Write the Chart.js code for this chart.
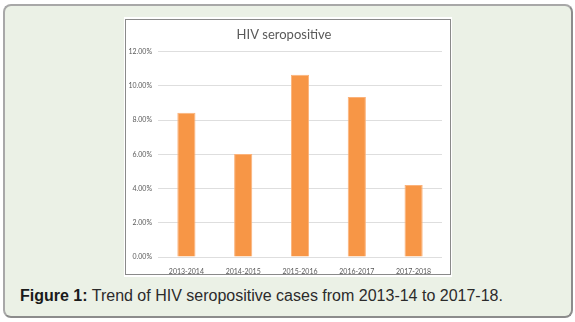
<!DOCTYPE html>
<html>
<head>
<meta charset="utf-8">
<script src="https://cdn.jsdelivr.net/npm/chart.js@4/dist/chart.umd.min.js"></script>
<style>
  html, body { margin: 0; padding: 0; background: #fff; }
  body { width: 575px; height: 322px; position: relative; overflow: hidden; }
  .panel {
    position: absolute; left: 3px; top: 4px; width: 566px; height: 310px;
    background: #ebf1e6; border: 2px solid #a8a8a8; border-radius: 8px;
    border-right-color: #8c8c8c; border-bottom-color: #8c8c8c;
  }
  .frame {
    position: absolute; left: 124px; top: 17px; width: 328px; height: 260px;
    background: #fff;
  }
  .box {
    position: absolute; left: 1px; top: 2px; width: 324px; height: 254px;
    border: 1px solid #8a8a8a;
  }
  .caption {
    position: absolute; left: 20px; top: 287px;
    font-family: "Liberation Sans", Arial, sans-serif; font-size: 16px; color: #2b2b2b;
  }
  .caption b { color: #1a1a1a; }
</style>
</head>
<body>
<div class="panel"></div>
<div class="frame">
  <div class="box"><canvas id="hivChart" width="324" height="254"></canvas></div>
</div>
<div class="caption"><b>Figure 1:</b> Trend of HIV seropositive cases from 2013-14 to 2017-18.</div>

<script>
// data
const years = ["2013-2014", "2014-2015", "2015-2016", "2016-2017", "2017-2018"];
const seropositive = [8.43, 6.02, 10.65, 9.35, 4.21];   // percent
const yTicks = [0, 2, 4, 6, 8, 10, 12];

const textGrey = "#595959";

const ctx = document.getElementById("hivChart").getContext("2d");
new Chart(ctx, {
  type: "bar",
  data: {
    labels: years,
    datasets: [{
      label: "HIV seropositive",
      data: seropositive,
      backgroundColor: "#f79646",
      borderColor: "#fbb27a",
      borderWidth: 1,
      barPercentage: 0.32,
      categoryPercentage: 1
    }]
  },
  options: {
    responsive: false,
    animation: false,
    layout: { padding: { left: 0, right: 8, top: 0, bottom: 0 } },
    plugins: {
      legend: { display: false },
      tooltip: { enabled: false },
      title: {
        display: true,
        text: "HIV seropositive",
        color: textGrey,
        font: { family: "Lato", size: 13, weight: "normal" },
        padding: { top: 7, bottom: 9 }
      }
    },
    scales: {
      x: {
        grid: { display: false },
        border: { display: false },
        ticks: { color: textGrey, font: { family: "Lato", size: 7 }, padding: 3, maxRotation: 0 },
        afterFit: s => { s.height = 17; }
      },
      y: {
        min: 0,
        max: 12,
        afterBuildTicks: s => { s.ticks = yTicks.map(v => ({ value: v })); },
        grid: { color: "#dedede", drawTicks: false },
        border: { display: false },
        ticks: {
          color: textGrey,
          font: { family: "Lato", size: 7 },
          padding: 6,
          callback: v => v.toFixed(2) + "%"
        },
        afterFit: s => { s.width = 32; }
      }
    }
  }
});
</script>
</body>
</html>
